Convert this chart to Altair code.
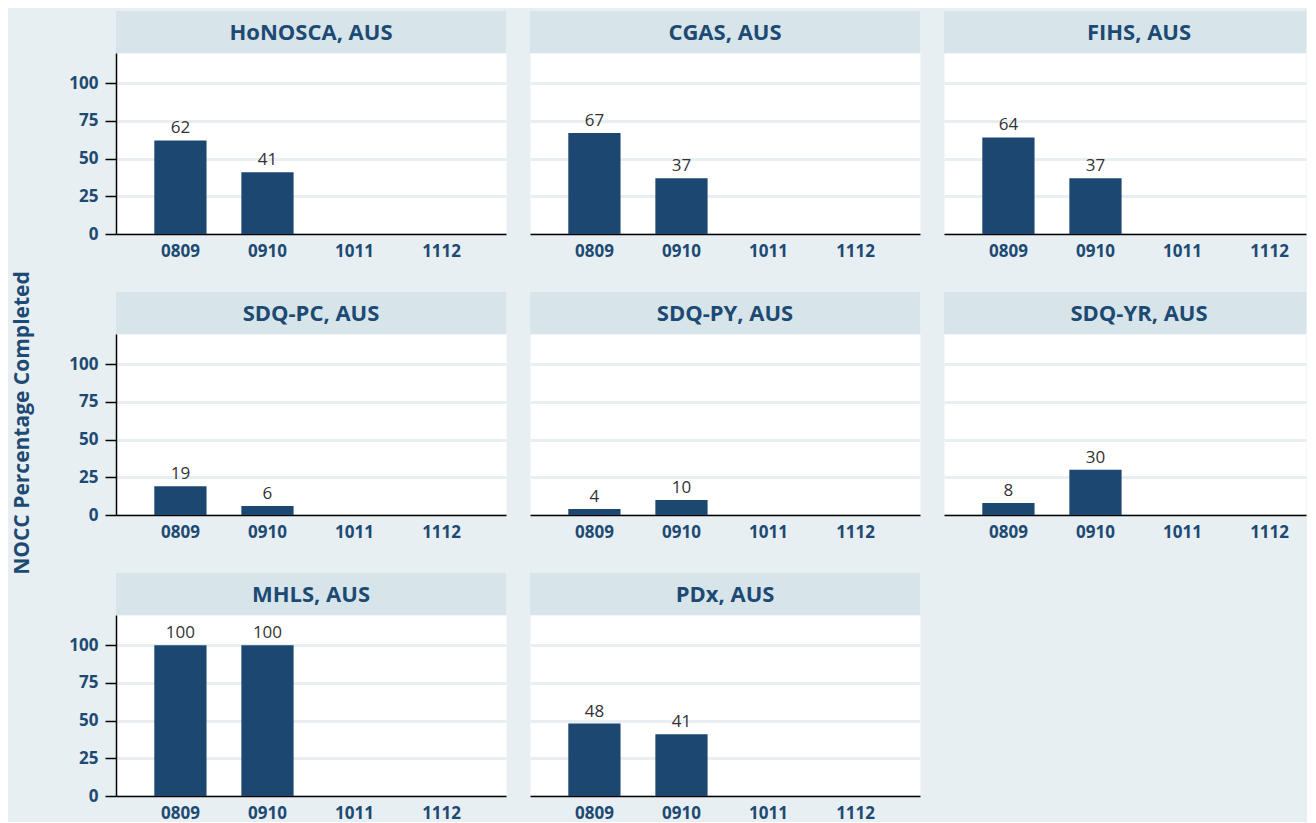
import altair as alt
import pandas as pd

panels = ["HoNOSCA, AUS", "CGAS, AUS", "FIHS, AUS",
          "SDQ-PC, AUS", "SDQ-PY, AUS", "SDQ-YR, AUS",
          "MHLS, AUS", "PDx, AUS"]
years = ["0809", "0910", "1011", "1112"]
v0809 = [62, 67, 64, 19, 4, 8, 100, 48]
v0910 = [41, 37, 37, 6, 10, 30, 100, 41]
y_ticks = [0, 25, 50, 75, 100]
y_title = "NOCC Percentage Completed"

BG = "#e8eff2"
HDR = "#d7e4ea"
BAR = "#1b4770"
DARK = "#1d4a72"
FONT = "Open Sans"

W, H, HH = 390, 181, 42
W3 = 362          # last column is cut by the page edge
PI, PO = 0.4, 0.44

# band geometry of the full-width panels, reused for the narrower last column
n = len(years)
step = W / (n - PI + 2 * PO)
start = (W - step * (n - PI)) * 0.5
PO3 = (W3 / step - (n - PI)) / 2
ALIGN3 = start / (W3 - step * (n - PI))

rows = []
for i, p in enumerate(panels):
    rows.append({"panel": p, "year": "0809", "value": v0809[i]})
    rows.append({"panel": p, "year": "0910", "value": v0910[i]})
df = pd.DataFrame(rows)


def panel_chart(name, col):
    w = W3 if col == 2 else W
    hdr_df = pd.DataFrame({"name": [name]})
    hdr_rect = alt.Chart(hdr_df).mark_rect(fill=HDR).encode(
        x=alt.value(0), x2=alt.value(w), y=alt.value(-HH), y2=alt.value(0))
    hdr_text = alt.Chart(hdr_df).mark_text(
        font=FONT, fontSize=22, fontWeight="bold", color=DARK,
        baseline="middle", align="center").encode(
        x=alt.value(W / 2), y=alt.value(-HH / 2 + 1), text="name:N")

    if col == 0:
        yaxis = alt.Axis(values=y_ticks, title="", domain=True, domainColor="black",
                         domainWidth=1.5, ticks=True, tickColor="black", tickSize=11,
                         tickWidth=1.5, labelFont=FONT, labelFontSize=17,
                         labelFontWeight="bold", labelColor=DARK, labelPadding=7,
                         grid=True, gridColor=BG, gridWidth=3)
    else:
        yaxis = alt.Axis(values=y_ticks, title="", domain=False, ticks=False,
                         labels=False, grid=True, gridColor=BG, gridWidth=3)
    xaxis = alt.Axis(title="", labelAngle=0, ticks=False, domain=True,
                     domainColor="black", domainWidth=1.5, labelFont=FONT,
                     labelFontSize=17, labelFontWeight="bold", labelColor=DARK,
                     labelPadding=9, grid=False)
    if col == 2:
        xscale = alt.Scale(domain=years, paddingInner=PI, paddingOuter=PO3, align=ALIGN3)
    else:
        xscale = alt.Scale(domain=years, paddingInner=PI, paddingOuter=PO)
    base = alt.Chart(df).transform_filter(alt.datum.panel == name).encode(
        x=alt.X("year:N", scale=xscale, axis=xaxis),
        y=alt.Y("value:Q", scale=alt.Scale(domain=[0, 120]), axis=yaxis),
    )
    bars = base.mark_bar(color=BAR)
    labels = base.mark_text(font=FONT, fontSize=17, color="#333333",
                            baseline="alphabetic", dy=-7).encode(text="value:Q")
    return alt.layer(bars, labels, hdr_rect, hdr_text).properties(width=w, height=H)


charts = [panel_chart(p, i % 3) for i, p in enumerate(panels)]
grid = alt.concat(*charts, columns=3,
                  spacing=alt.RowColnumber(row=31, column=22), align="each")

title_chart = alt.Chart(pd.DataFrame({"t": [y_title]})).mark_text(
    angle=270, font=FONT, fontSize=21, fontWeight="bold", color=DARK,
    align="center", baseline="middle").encode(
    x=alt.value(14), y=alt.value(370), text="t:N"
).properties(width=28, height=700,
             view=alt.ViewBackground(fill=BG, stroke="transparent"))

chart = alt.hconcat(title_chart, grid, spacing=30).properties(
    padding={"left": 0, "top": 2, "right": 0, "bottom": 0},
    background=BG,
).configure_view(fill="white", stroke="transparent")

chart.save("out.html", embed_options={"renderer": "svg", "actions": False})
